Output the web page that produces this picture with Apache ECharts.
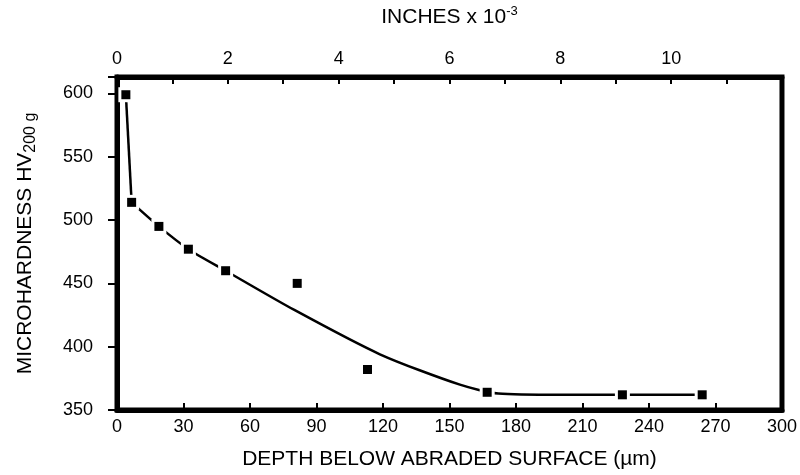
<!DOCTYPE html>
<html>
<head>
<meta charset="utf-8">
<script src="https://cdn.jsdelivr.net/npm/echarts@6/dist/echarts.min.js"></script>
<style>
  html, body { margin: 0; padding: 0; background: #fff; }
  #HardnessChart { width: 800px; height: 475px; }
</style>
</head>
<body>
<div id="HardnessChart"></div>
<script>

// measured points
var depthUm = [4, 6.6, 18.9, 32.2, 49, 81.3, 113, 167, 228, 264];
var hardness = [599, 514, 495, 477, 460, 450, 382, 364, 362, 362];

// hand drawn curve (steep first part is straight)
var steepDepth = [4, 6.6];
var steepHardness = [599, 514];
var fitDepth = [6.6, 18.9, 32.2, 49, 80, 118.6, 154.7, 172, 200, 264];
var fitHardness = [514, 495, 477, 460, 429, 394, 370, 363, 362, 362];

var bottomTicks = [0, 300, 30];
var topTicks = [0, 12, 1];
var leftTicks = [350, 613, 50];

var global = {};
var fontName = '"Liberation Sans", Arial, Helvetica, sans-serif';

InitChart();

function ToPairs(xs, ys) {
    var out = [];
    for (var i = 0; i < xs.length; i++) {
        out.push([xs[i], ys[i]]);
    }
    return out;
}

function InitChart() {

    global.HardnessChart = echarts.init(document.getElementById('HardnessChart'), null, { renderer: 'canvas' });

    var points = ToPairs(depthUm, hardness);

    global.HardnessChartOption = {
        animation: false,
        backgroundColor: '#fff',
        textStyle: { fontFamily: fontName, color: '#000' },
        grid: {
            left: 117,
            right: 18,
            top: 76,
            bottom: 62,
            show: true,
            borderColor: '#000',
            borderWidth: 5
        },
        xAxis: [{
            type: 'value',
            position: 'bottom',
            min: bottomTicks[0],
            max: bottomTicks[1],
            interval: bottomTicks[2],
            name: 'DEPTH BELOW ABRADED SURFACE (µm)',
            nameLocation: 'middle',
            nameGap: 39,
            nameTextStyle: { fontSize: 21, color: '#000', fontFamily: fontName },
            axisLine: { lineStyle: { color: '#000', width: 5 } },
            axisTick: { inside: true, length: 7, lineStyle: { color: '#000', width: 2 } },
            axisLabel: { fontSize: 18, color: '#000', margin: 8, fontFamily: fontName },
            splitLine: { show: false }
        }, {
            type: 'value',
            position: 'top',
            min: topTicks[0],
            max: topTicks[1],
            interval: topTicks[2],
            name: '{a|INCHES x 10}{sup|-3}',
            nameLocation: 'middle',
            nameGap: 48,
            nameTextStyle: {
                color: '#000',
                rich: {
                    a: { fontSize: 21, color: '#000', fontFamily: fontName },
                    sup: { fontSize: 13, color: '#000', fontFamily: fontName, padding: [0, 0, 11, 0] }
                }
            },
            axisLine: { lineStyle: { color: '#000', width: 5 } },
            axisTick: { inside: true, length: 7, lineStyle: { color: '#000', width: 2 } },
            axisLabel: {
                fontSize: 18,
                color: '#000',
                margin: 9,
                fontFamily: fontName,
                formatter: function (v) {
                    if (v % 2 != 0 || v >= 12) return '';
                    return v;
                }
            },
            splitLine: { show: false }
        }],
        yAxis: {
            type: 'value',
            min: leftTicks[0],
            max: leftTicks[1],
            interval: leftTicks[2],
            name: '{a|MICROHARDNESS HV}{sub|200 g}',
            nameLocation: 'middle',
            nameGap: 78,
            nameRotate: 90,
            nameTextStyle: {
                color: '#000',
                rich: {
                    a: { fontSize: 21, color: '#000', fontFamily: fontName },
                    sub: { fontSize: 16, color: '#000', fontFamily: fontName, padding: [12, 0, 0, 0] }
                }
            },
            axisLine: { lineStyle: { color: '#000', width: 5 } },
            axisTick: { inside: false, length: 9, lineStyle: { color: '#000', width: 2 } },
            axisLabel: {
                fontSize: 18,
                color: '#000',
                margin: 24,
                fontFamily: fontName,
                formatter: function (v) {
                    if (v % 50 != 0) return '';
                    return v;
                }
            },
            splitLine: { show: false }
        },
        series: [{
            name: 'steep',
            type: 'line',
            xAxisIndex: 0,
            data: ToPairs(steepDepth, steepHardness),
            smooth: false,
            showSymbol: false,
            symbol: 'none',
            lineStyle: { color: '#000', width: 2.5 },
            z: 2
        }, {
            name: 'curve',
            type: 'line',
            xAxisIndex: 0,
            data: ToPairs(fitDepth, fitHardness),
            smooth: 0.25,
            showSymbol: false,
            symbol: 'none',
            lineStyle: { color: '#000', width: 2.5 },
            z: 2
        }, {
            name: 'halo',
            type: 'scatter',
            xAxisIndex: 0,
            data: points,
            symbol: 'rect',
            symbolSize: 15,
            itemStyle: { color: '#fff', opacity: 1 },
            z: 3
        }, {
            name: 'points',
            type: 'scatter',
            xAxisIndex: 0,
            data: points,
            symbol: 'rect',
            symbolSize: 9,
            itemStyle: { color: '#000', opacity: 1 },
            z: 4
        }]
    };

    global.HardnessChart.setOption(global.HardnessChartOption);
}
</script>
</body>
</html>
